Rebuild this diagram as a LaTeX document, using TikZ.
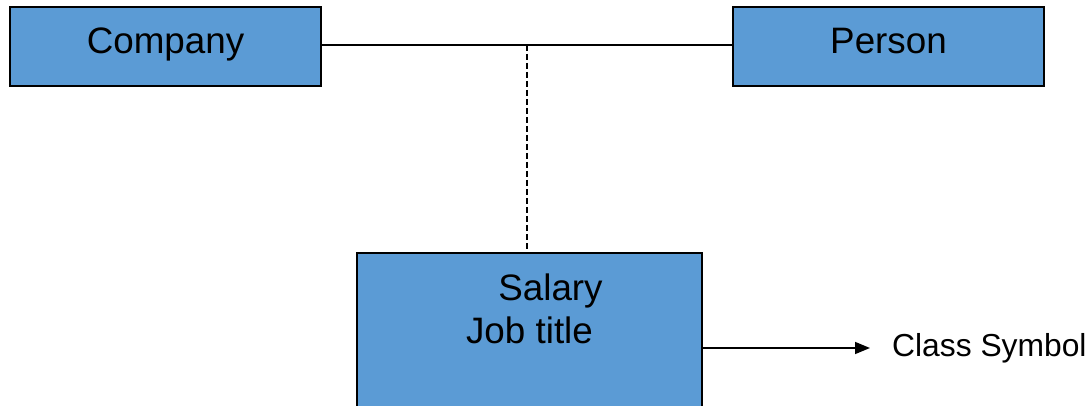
\documentclass[tikz,border=0pt]{standalone}
\usepackage{fontspec}
\setmainfont{Liberation Sans}
\usetikzlibrary{arrows.meta}
\definecolor{classblue}{HTML}{5B9BD5}
\begin{document}
\begin{tikzpicture}[x=1pt,y=-1pt,
  classbox/.style={draw=black, line width=2pt, fill=classblue, inner sep=0pt, outer sep=0pt},
  label36/.style={font=\fontsize{36.8}{43}\selectfont, inner sep=0pt, anchor=base},
  link/.style={line width=1.6pt},
  assoc/.style={line width=1.6pt, dash pattern=on 6pt off 3pt}]
  \useasboundingbox (0,0) rectangle (1092,406);
  \begin{scope}
    \clip (0,0) rectangle (1092,406);
    % classes
    \node[classbox, minimum width=311pt, minimum height=79pt, anchor=north west] (company) at (10,7) {};
    \node[classbox, minimum width=311pt, minimum height=79pt, anchor=north west] (person) at (733,7) {};
    \node[classbox, minimum width=345pt, minimum height=170pt, anchor=north west] (salary) at (357,253) {};
    % association line and the dashed link to the association class
    \draw[link] (company.east |- 0,45) -- coordinate[pos=0.5] (mid) (person.west |- 0,45);
    \draw[assoc] (mid) -- (mid |- salary.north);
    % caption with its pointer
    \node[font=\fontsize{31.8}{38}\selectfont, inner sep=0pt, anchor=base west] (caption) at (892,356) {Class Symbol};
    \coordinate (tip) at (870,348);
    \draw[link, -{Triangle[length=15pt, width=12pt]}] (salary.east |- tip) -- (tip);
  \end{scope}
  % texts
  \node[label36] (ctext) at (165.5,54) {Company};
  \node[label36] (ptext) at (888.5,54) {Person};
  \node[label36] (stext) at (550.5,300) {Salary};
  \node[label36] (jtext) at (529.5,343) {Job title};
\end{tikzpicture}
\end{document}
